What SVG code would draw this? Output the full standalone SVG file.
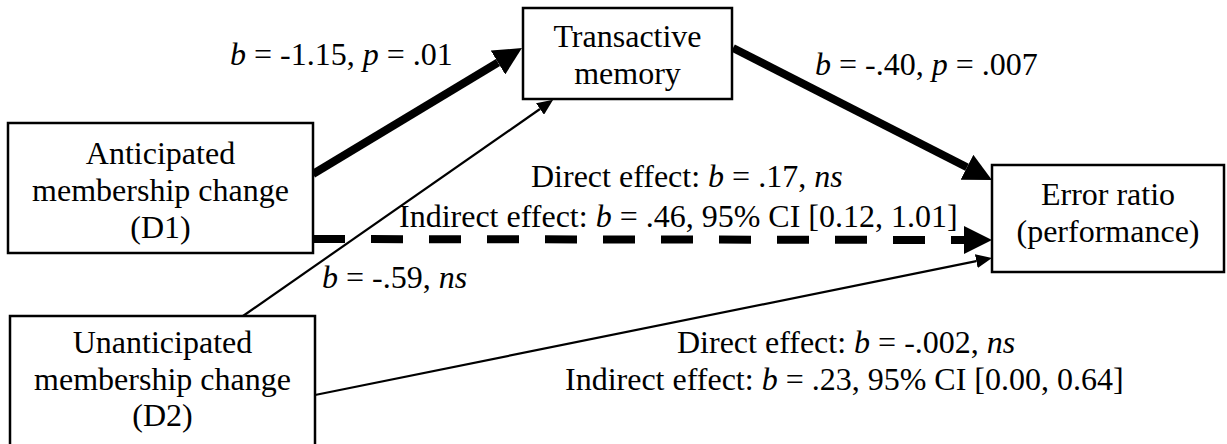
<svg xmlns="http://www.w3.org/2000/svg" width="1227" height="444" viewBox="0 0 1227 444">
<style>
text { font-family: "Liberation Serif", "Times New Roman", serif; font-size: 32px; fill: #000; }
.c { text-anchor: middle; }
.i { font-style: italic; }
.box { fill: #fff; stroke: #000; stroke-width: 2.5; }
.thick { stroke: #000; stroke-width: 8; fill: none; }
.dash { stroke: #000; stroke-width: 8; fill: none; stroke-dasharray: 32 26; }
.thin { stroke: #000; stroke-width: 2.2; fill: none; }
</style>
<defs>
<marker id="bigArrow" markerUnits="userSpaceOnUse" markerWidth="30" markerHeight="28" refX="0" refY="14" orient="auto">
<path d="M0,0 L28,14 L0,28 z" fill="#000"/>
</marker>
<marker id="smallArrow" markerUnits="userSpaceOnUse" markerWidth="18" markerHeight="14" refX="0" refY="7" orient="auto">
<path d="M0,0 L16,7 L0,14 z" fill="#000"/>
</marker>
</defs>
<g id="connectors">
<line class="thick" x1="313" y1="174" x2="498" y2="62.5" marker-end="url(#bigArrow)"/>
<line class="thick" x1="733" y1="48" x2="967" y2="167.3" marker-end="url(#bigArrow)"/>
<line class="dash" x1="313" y1="239" x2="964" y2="240" marker-end="url(#bigArrow)"/>
<line class="thin" x1="243" y1="316" x2="540" y2="109" marker-end="url(#smallArrow)"/>
<line class="thin" x1="315" y1="395" x2="976.3" y2="261.2" marker-end="url(#smallArrow)"/>
</g>
<g id="node-transactive">
<rect class="box" x="523" y="8" width="209" height="91"/>
<text class="c" x="627.5" y="47">Transactive</text>
<text class="c" x="627.5" y="84">memory</text>
</g>
<g id="node-anticipated">
<rect class="box" x="8" y="123" width="305" height="130"/>
<text class="c" x="160.5" y="164">Anticipated</text>
<text class="c" x="160.5" y="201">membership change</text>
<text class="c" x="160.5" y="238">(D1)</text>
</g>
<g id="node-unanticipated">
<rect class="box" x="10" y="316" width="305" height="140"/>
<text class="c" x="162.5" y="353">Unanticipated</text>
<text class="c" x="162.5" y="390">membership change</text>
<text class="c" x="162.5" y="426">(D2)</text>
</g>
<g id="node-error">
<rect class="box" x="992" y="165" width="232" height="107"/>
<text class="c" x="1108" y="205">Error ratio</text>
<text class="c" x="1108" y="242">(performance)</text>
</g>
<g id="labels">
<text x="230" y="65"><tspan class="i">b</tspan> = -1.15, <tspan class="i">p</tspan> = .01</text>
<text x="815" y="75"><tspan class="i">b</tspan> = -.40, <tspan class="i">p</tspan> = .007</text>
<text x="531" y="187">Direct effect: <tspan class="i">b</tspan> = .17, <tspan class="i">ns</tspan></text>
<text x="399" y="227">Indirect effect: <tspan class="i">b</tspan> = .46, 95% CI [0.12, 1.01]</text>
<text x="322" y="288"><tspan class="i">b</tspan> = -.59, <tspan class="i">ns</tspan></text>
<text x="677" y="353">Direct effect: <tspan class="i">b</tspan> = -.002, <tspan class="i">ns</tspan></text>
<text x="565" y="390">Indirect effect: <tspan class="i">b</tspan> = .23, 95% CI [0.00, 0.64]</text>
</g>
</svg>
